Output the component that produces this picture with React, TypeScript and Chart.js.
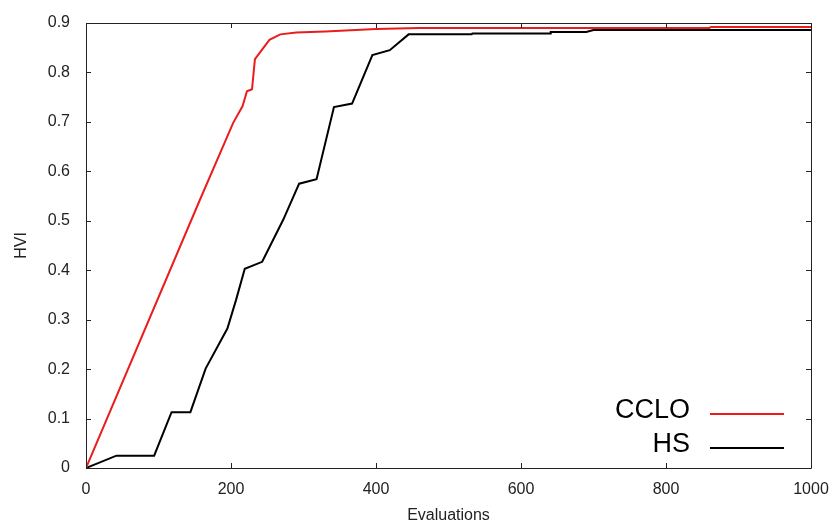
import React, { useEffect, useRef } from "react";
import { Chart, registerables } from "chart.js";

Chart.register(...registerables);

const seriesNames = ["CCLO", "HS"];
const seriesColors = ["rgb(235,28,28)", "rgb(0,0,0)"];

const ccloX = [0, 157, 203, 216, 222, 229, 233, 253, 268, 290, 330, 400, 460, 860, 862, 1000];
const ccloY = [0, 0.542, 0.698, 0.732, 0.762, 0.766, 0.827, 0.866, 0.877, 0.881, 0.883, 0.888, 0.89, 0.89, 0.892, 0.892];

const hsX = [0, 42, 94, 118, 144, 165, 195, 207, 219, 243, 272, 294, 318, 342, 367, 395, 419, 445, 532, 533, 640, 641, 690, 700, 1000];
const hsY = [0, 0.025, 0.025, 0.113, 0.113, 0.201, 0.282, 0.34, 0.403, 0.417, 0.502, 0.575, 0.584, 0.73, 0.737, 0.835, 0.845, 0.877, 0.877, 0.879, 0.879, 0.882, 0.882, 0.886, 0.886];

const xTicks = [0, 200, 400, 600, 800, 1000];
const yTicks = [0, 0.1, 0.2, 0.3, 0.4, 0.5, 0.6, 0.7, 0.8, 0.9];
const yTickLabels = ["0", "0.1", "0.2", "0.3", "0.4", "0.5", "0.6", "0.7", "0.8", "0.9"];
const xTitle = "Evaluations";
const yTitle = "HVI";

const FONT = "Arial, 'Liberation Sans', sans-serif";

const framePlugin = {
  id: "frameTicksLegend",
  afterDatasetsDraw(chart: any) {
    const { ctx, chartArea } = chart;
    const { left, right, top, bottom } = chartArea;
    const xs = chart.scales.x;
    const ys = chart.scales.y;
    ctx.save();
    ctx.strokeStyle = "#222";
    ctx.lineWidth = 1;
    ctx.beginPath();
    ctx.rect(Math.round(left) + 0.5, Math.round(top) + 0.5, Math.round(right - left), Math.round(bottom - top));
    ctx.stroke();
    const tl = 5;
    ctx.beginPath();
    xTicks.forEach((v) => {
      const px = Math.round(xs.getPixelForValue(v)) + 0.5;
      ctx.moveTo(px, bottom);
      ctx.lineTo(px, bottom - tl);
      ctx.moveTo(px, top);
      ctx.lineTo(px, top + tl);
    });
    yTicks.forEach((v) => {
      const py = Math.round(ys.getPixelForValue(v)) + 0.5;
      ctx.moveTo(left, py);
      ctx.lineTo(left + tl, py);
      ctx.moveTo(right, py);
      ctx.lineTo(right - tl, py);
    });
    ctx.stroke();

    // legend
    const textRight = right - 121;
    const lineStart = right - 101;
    const lineEnd = right - 27;
    const baselines = [bottom - 50.5, bottom - 16.5];
    ctx.font = `27px ${FONT}`;
    ctx.textAlign = "right";
    ctx.textBaseline = "alphabetic";
    chart.data.datasets.forEach((ds: any, i: number) => {
      ctx.fillStyle = "#000";
      ctx.fillText(ds.label, textRight, baselines[i]);
      ctx.strokeStyle = ds.borderColor;
      ctx.lineWidth = 2;
      ctx.beginPath();
      const ly = baselines[i] - 3.5;
      ctx.moveTo(lineStart, ly);
      ctx.lineTo(lineEnd, ly);
      ctx.stroke();
    });
    ctx.restore();
  },
};

export default function App() {
  const ref = useRef<HTMLCanvasElement | null>(null);
  useEffect(() => {
    if (!ref.current) return;
    const chart = new Chart(ref.current, {
      type: "line",
      data: {
        datasets: [
          {
            label: seriesNames[0],
            data: ccloX.map((x, i) => ({ x, y: ccloY[i] })),
            borderColor: seriesColors[0],
            borderWidth: 2,
            pointRadius: 0,
            tension: 0,
            fill: false,
          },
          {
            label: seriesNames[1],
            data: hsX.map((x, i) => ({ x, y: hsY[i] })),
            borderColor: seriesColors[1],
            borderWidth: 2,
            pointRadius: 0,
            tension: 0,
            fill: false,
          },
        ],
      },
      options: {
        responsive: false,
        animation: false,
        layout: { padding: { top: 23, right: 22, left: 0, bottom: 0 } },
        plugins: { legend: { display: false }, tooltip: { enabled: false } },
        scales: {
          x: {
            type: "linear",
            min: 0,
            max: 1000,
            afterBuildTicks: (s: any) => {
              s.ticks = xTicks.map((v) => ({ value: v }));
            },
            afterFit: (s: any) => {
              s.height = 57;
              s.paddingLeft = 0;
              s.paddingRight = 0;
            },
            grid: { display: false, drawTicks: false },
            border: { display: false },
            ticks: {
              color: "#222",
              font: { family: FONT, size: 16 },
              padding: 12,
              maxRotation: 0,
              callback: (v: any) => String(v),
            },
            title: {
              display: true,
              text: xTitle,
              color: "#222",
              font: { family: FONT, size: 16 },
              padding: { top: 0, bottom: 0 },
            },
          },
          y: {
            type: "linear",
            min: 0,
            max: 0.9,
            afterBuildTicks: (s: any) => {
              s.ticks = yTicks.map((v) => ({ value: v }));
            },
            afterFit: (s: any) => {
              s.width = 86;
              s.paddingTop = 0;
              s.paddingBottom = 0;
            },
            grid: { display: false, drawTicks: false },
            border: { display: false },
            ticks: {
              color: "#222",
              font: { family: FONT, size: 16 },
              padding: 16,
              callback: (v: any) => {
                const idx = yTicks.findIndex((t) => Math.abs(t - v) < 1e-9);
                return idx >= 0 ? yTickLabels[idx] : "";
              },
            },
            title: {
              display: true,
              text: yTitle,
              color: "#222",
              font: { family: FONT, size: 16 },
              padding: { top: 12, bottom: 0 },
            },
          },
        },
      },
      plugins: [framePlugin],
    });
    return () => chart.destroy();
  }, []);
  return (
    <div style={{ position: "absolute", left: 0, top: 0, width: 833, height: 525, background: "#fff" }}>
      <canvas ref={ref} width={833} height={525} style={{ display: "block" }} />
    </div>
  );
}
